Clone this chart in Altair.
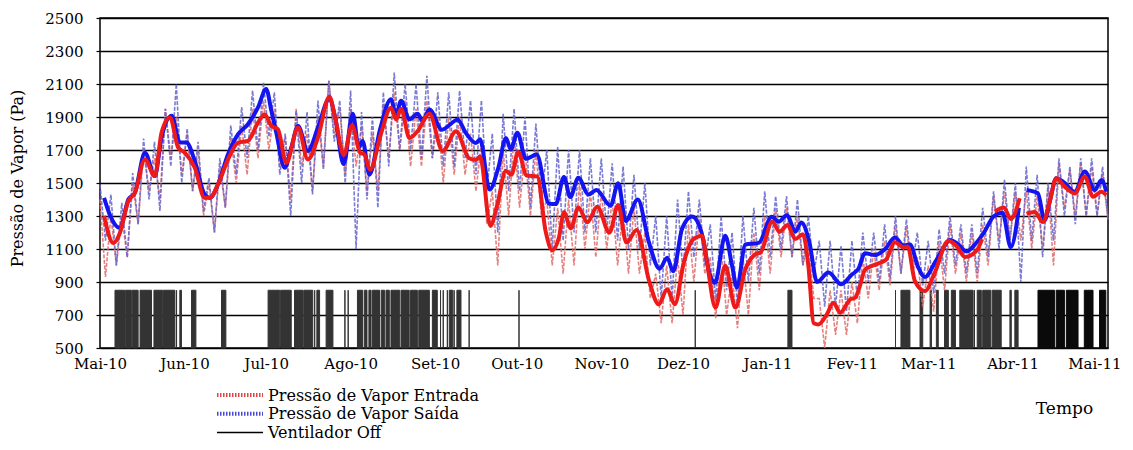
import altair as alt
import pandas as pd

# ---------------- data ----------------
Y_TICKS = [500, 700, 900, 1100, 1300, 1500, 1700, 1900, 2100, 2300, 2500]
MONTH_DAYS = [0, 31, 61, 92, 123, 153, 184, 214, 245, 276, 304, 335, 365]   # days since 2010-05-01
MONTH_LABELS = ["Mai-10", "Jun-10", "Jul-10", "Ago-10", "Set-10", "Out-10", "Nov-10",
                "Dez-10", "Jan-11", "Fev-11", "Mar-11", "Abr-11", "Mai-11"]

# smoothed "Saída" (blue thick line); None marks a gap in the record
saida_days = [1.5, 3.6, 7.3, 10.4, 12.8, 16.5, 20.1, 22.6, 26.3, 29.3, 31.7, 34.8, 38.4, 40.3, 43.3,
              47.0, 50.7, 54.3, 58.0, 61.0, 62.9, 64.7, 67.8, 70.2, 72.7, 76.3, 80.0, 84.2, 86.3,
              89.4, 92.8, 95.0, 96.4, 98.9, 102.8, 106.8, 108.7, 110.5, 113.6, 116.6, 118.4, 120.9,
              125.5, 131.3, 134.3, 138.0, 139.5, 143.0, 146.2, 149.0, 150.8, 153.2, 156.3, 160.3,
              164.8, 167.3, 170.3, 172.6, 175.6, 179.3, 182.2, 187.4, 190.2, 193.0, 197.4, 201.5,
              205.4, 208.2, 210.4, 213.7, 217.3, 220.8, 224.0, 225.7, 229.5, 232.0, 233.8, 236.9,
              241.8, 246.6, 249.1, 252.1, 255.3, 257.4, 260.4, 263.2, 267.4, 272.1, 276.0, 278.4,
              280.8, 284.5, 288.2, 291.8, 294.9, 297.3, 300.3, 302.8, 306.5, 308.5, 312.0, 315.0,
              318.0, 321.7, 324.5, 328.0, 331.3, 334.3, 337.3, 338.7, 340.1, 344.3, 346.7, 348.6,
              351.0, 353.5, 357.8, 361.5, 365.1, 367.6, 369.4]
saida_vals = [1410, 1308, 1227, 1400, 1440, 1684, 1542, 1775, 1907, 1745, 1745, 1633, 1430, 1410, 1491,
              1674, 1796, 1856, 1958, 2070, 1938, 1806, 1592, 1714, 1846, 1694, 1836, 2012, 1900,
              1615, 1920, 1714, 1755, 1550, 1825, 2008, 1910, 1998, 1886, 1920, 1875, 1946,
              1823, 1884, 1803, 1742, 1765, 1460, 1592, 1772, 1703, 1805, 1647, 1672,
              1375, 1372, 1537, 1415, 1532, 1430, 1458, 1362, 1498, 1270, 1400, 1140,
              980, 1047, 965, 1225, 1297, 1200, 938, 895, 1180, 1000, 866, 1127,
              1137, 1295, 1265, 1305, 1206, 1261, 1140, 900, 957, 886, 946, 980,
              1075, 1063, 1100, 1170, 1121, 1128, 990, 930, 1019, 1075, 1155, 1128,
              1085, 1138, 1200, 1297, 1320, 1110, 1350, None, 1457, 1437, 1274, 1386,
              1529, 1508, 1447, 1570, 1457, 1518, 1447]

# smoothed "Entrada" (red thick line)
entrada_days = [1.5, 4.9, 7.3, 10.4, 12.8, 16.5, 20.1, 22.6, 25.7, 28.7, 31.1, 34.8, 38.4, 40.3, 43.3,
                47.0, 50.7, 54.3, 58.0, 60.4, 62.9, 65.3, 68.4, 72.7, 76.3, 80.0, 84.2, 86.5, 89.5,
                92.5, 95.5, 97.0, 99.2, 103.0, 106.8, 108.7, 110.5, 113.6, 116.6, 120.9, 125.8, 130.7,
                135.5, 138.0, 139.5, 143.3, 145.8, 149.0, 151.0, 153.5, 156.6, 160.5, 163.6, 166.0,
                168.5, 170.3, 172.8, 175.6, 178.9, 182.5, 187.0, 190.2, 193.2, 197.0, 201.5, 205.1,
                208.2, 211.0, 214.3, 217.9, 221.0, 222.8, 225.9, 229.5, 233.2, 236.9, 240.5, 242.5,
                246.8, 249.4, 252.4, 255.2, 258.0, 260.0, 262.0, 263.7, 266.8, 269.2, 271.7, 275.4,
                277.2, 278.8, 280.8, 285.0, 288.5, 291.8, 294.9, 296.5, 299.1, 302.8, 306.5, 311.4,
                314.4, 317.5, 321.7, 323.8, 326.0, 328.5, 331.8, 334.3, 337.6, 338.8, 340.1, 343.1,
                346.1, 348.6, 351.0, 354.1, 357.8, 361.5, 364.5, 367.6, 369.4]
entrada_vals = [1300, 1136, 1197, 1390, 1440, 1643, 1542, 1806, 1897, 1714, 1684, 1592, 1410, 1410, 1491,
                1643, 1745, 1755, 1866, 1917, 1846, 1826, 1623, 1836, 1643, 1775, 2022, 1880, 1670,
                1850, 1683, 1674, 1580, 1790, 1956, 1885, 1950, 1773, 1815, 1920, 1694, 1813,
                1650, 1640, 1660, 1240, 1366, 1575, 1550, 1688, 1545, 1540, 1205, 1093,
                1173, 1322, 1225, 1352, 1262, 1356, 1200, 1366, 1139, 1215, 910, 765,
                856, 765, 1019, 1161, 1181, 1019, 745, 999, 745, 978, 1068, 1080,
                1267, 1205, 1245, 1160, 1190, 1000, 650, 643, 704, 775, 714, 795,
                805, 870, 975, 1008, 1035, 1141, 1110, 1115, 906, 845, 960, 1150,
                1118, 1052, 1088, 1160, None, 1328, 1352, 1282, 1408, None, 1314, 1325,
                1263, 1386, 1529, 1478, 1437, 1539, 1416, 1447, 1427]

# daily swings (thin hatched series): spike tops / bottoms read every 4 days
hatch_days = list(range(0, 369, 4))
saida_hi = [1490, 1430, 1380, 1560, 1770, 1750, 1950, 2100, 1830, 1750,
            1530, 1650, 1850, 1960, 2060, 2110, 2050, 1800, 1940, 1930,
            2000, 2120, 2000, 2060, 1930, 1900, 2050, 2170, 2100, 2100,
            2150, 2050, 2050, 2060, 2000, 2000, 1800, 1920, 1950, 1900,
            1860, 1700, 1720, 1700, 1700, 1650, 1650, 1620, 1600, 1550,
            1500, 1300, 1300, 1400, 1450, 1400, 1250, 1300, 1200, 1300,
            1350, 1450, 1420, 1420, 1400, 1300, 1150, 1150, 1120, 1150,
            1200, 1200, 1250, 1300, 1280, 1200, 1150, 1220, 1300, 1250,
            1250, 1350, 1450, 1520, 1500, 1600, 1550, 1500, 1650, 1600,
            1650, 1650, 1600]
saida_lo = [1150, 1000, 1050, 1250, 1400, 1330, 1600, 1500, 1450, 1330,
            1200, 1350, 1550, 1650, 1700, 1780, 1550, 1300, 1500, 1430,
            1580, 1750, 1500, 1100, 1400, 1350, 1600, 1700, 1700, 1650,
            1650, 1600, 1600, 1650, 1550, 1450, 1200, 1450, 1450, 1350,
            1400, 1100, 1150, 1200, 1200, 1200, 1200, 1150, 1100, 1100,
            1000, 800, 800, 950, 1050, 1000, 780, 850, 750, 900,
            950, 1050, 1100, 1050, 1000, 950, 750, 750, 720, 800,
            900, 900, 920, 950, 980, 880, 830, 950, 1000, 950,
            950, 1050, 1100, 1150, 900, 1150, 1050, 1150, 1300, 1250,
            1300, 1300, 1280]
entrada_hi = [1400, 1300, 1300, 1500, 1700, 1650, 1950, 1900, 1800, 1700,
              1500, 1600, 1780, 1850, 1950, 2000, 1950, 1780, 1950, 1800,
              1900, 2120, 1950, 1950, 1850, 1800, 1980, 2050, 2000, 1950,
              2000, 1900, 1900, 1900, 1800, 1750, 1450, 1700, 1800, 1700,
              1700, 1400, 1350, 1400, 1500, 1450, 1450, 1400, 1350, 1350,
              1200, 950, 1000, 1050, 1250, 1300, 1050, 1100, 950, 1050,
              1200, 1300, 1350, 1350, 1300, 1150, 800, 850, 850, 900,
              1050, 1100, 1150, 1250, 1230, 1050, 1000, 1150, 1250, 1200,
              1200, 1250, 1420, 1450, 1450, 1450, 1420, 1480, 1620, 1580,
              1620, 1600, 1560]
entrada_lo = [930, 1000, 1050, 1250, 1450, 1400, 1650, 1550, 1450, 1300,
              1200, 1350, 1500, 1550, 1650, 1700, 1600, 1400, 1600, 1450,
              1600, 1800, 1550, 1600, 1450, 1450, 1650, 1700, 1600, 1600,
              1650, 1500, 1550, 1550, 1450, 1250, 1000, 1300, 1350, 1300,
              1300, 1000, 950, 1000, 1100, 1050, 1100, 1000, 950, 950,
              800, 650, 650, 700, 900, 950, 680, 700, 620, 700,
              850, 950, 1050, 1050, 1000, 800, 500, 580, 580, 650,
              800, 850, 880, 950, 950, 750, 720, 850, 950, 900,
              900, 1000, 1150, 1150, 1150, 1100, 1100, 1000, 1350, 1300,
              1300, 1300, 1280]

# periods with the fan off (start day, end day)
fan_start = [5.5, 9.3, 11.8, 14.7, 19.8, 23.3, 28.1, 29.3, 33.6, 44.6, 61.7, 66.3, 71.4, 74.8, 78.8,
             79.6, 83.0, 89.9, 91.1, 94.5, 97.0, 98.7, 100.0, 103.2, 105.0, 106.8, 110.5, 114.0,
             117.0, 122.0, 125.0, 126.0, 127.5, 128.2, 130.0, 131.0, 135.5, 153.8, 218.5, 252.5,
             292.0, 294.0, 301.0, 304.7, 307.0, 310.0, 312.5, 315.6, 321.0, 322.0, 324.0, 327.5,
             334.0, 335.8, 344.3, 351.0, 354.7, 361.3, 362.6, 366.9]
fan_end = [9.0, 11.5, 14.0, 18.9, 23.0, 27.5, 28.1, 29.9, 35.2, 46.2, 66.0, 70.2, 74.5, 78.1, 78.8,
           80.6, 85.5, 89.9, 91.1, 96.4, 98.0, 99.5, 102.6, 104.5, 106.2, 110.0, 113.5, 116.5,
           120.9, 123.8, 125.0, 126.0, 127.5, 129.5, 130.0, 132.5, 135.5, 153.8, 218.5, 254.0,
           292.0, 297.3, 302.0, 305.2, 307.7, 311.4, 314.0, 320.5, 321.0, 323.5, 327.0, 330.8,
           334.5, 337.0, 350.4, 354.0, 359.0, 362.5, 364.5, 369.2]
FAN_OFF_LEVEL = 850
FAN_BASE = 500

# ---------------- frames ----------------
def line_frame(days, vals):
    rows, seg = [], 0
    for d, v in zip(days, vals):
        if v is None:
            seg += 1
            continue
        rows.append({"day": d, "val": v, "seg": seg})
    return pd.DataFrame(rows)


def hatch_frame(hi, lo):
    rows = []
    for i, d in enumerate(hatch_days):
        rows.append({"day": d, "val": hi[i], "o": 2 * i})
        rows.append({"day": d + 2, "val": lo[i], "o": 2 * i + 1})
    return pd.DataFrame(rows)


saida_df = line_frame(saida_days, saida_vals)
entrada_df = line_frame(entrada_days, entrada_vals)
saida_h = hatch_frame(saida_hi, saida_lo)
entrada_h = hatch_frame(entrada_hi, entrada_lo)
fan_df = pd.DataFrame({"s": fan_start, "e": fan_end,
                       "lo": [FAN_BASE] * len(fan_start), "hi": [FAN_OFF_LEVEL] * len(fan_start),
                       "late": [s > 340 for s in fan_start]})

# ---------------- scales / axes ----------------
FONT = "DejaVu Serif"
xscale = alt.Scale(domain=[0, 370], nice=False, zero=False)
yscale = alt.Scale(domain=[500, 2500], nice=False, zero=False)

label_expr = ("[" + ",".join("'%s'" % m for m in MONTH_LABELS) + "][indexof(["
              + ",".join(str(d) for d in MONTH_DAYS) + "], datum.value)]")

xaxis = alt.Axis(values=MONTH_DAYS, labelExpr=label_expr, grid=False, ticks=False, domain=False,
                 labelFont=FONT, labelFontSize=15, labelColor="black", labelPadding=8,
                 labelFlush=False, labelOverlap=False,
                 title="Tempo", titleFont=FONT, titleFontSize=17, titleFontWeight="normal",
                 titleColor="black", titleX=964, titleY=65, titleAlign="center",
                 titleBaseline="alphabetic")
yaxis = alt.Axis(values=Y_TICKS, format="d", grid=True, gridColor="black", gridWidth=1.4,
                 gridOpacity=1, domain=False, ticks=True, tickColor="black", tickSize=4,
                 tickWidth=1.2, labelFont=FONT, labelFontSize=15, labelColor="black",
                 labelPadding=13, labelFlush=False, labelOverlap=False,
                 title="Pressão de Vapor (Pa)", titleFont=FONT, titleFontSize=16,
                 titleFontWeight="normal", titleColor="black", titleAngle=270,
                 titleX=-78, titleY=160, titleAlign="center", titleBaseline="alphabetic")

X = lambda f: alt.X(f, type="quantitative", scale=xscale, axis=xaxis)
Y = lambda f: alt.Y(f, type="quantitative", scale=yscale, axis=yaxis)

fan_colors = alt.Scale(domain=[False, True], range=["#333333", "#0a0a0a"])
fan = alt.Chart(fan_df).mark_rect(strokeWidth=1).encode(
    x=X("s"), x2="e", y=Y("lo"), y2="hi",
    color=alt.Color("late:N", scale=fan_colors, legend=None),
    stroke=alt.Stroke("late:N", scale=fan_colors, legend=None))

hatch_red = alt.Chart(entrada_h).mark_line(color="#e06a6a", strokeWidth=1.6,
                                            strokeDash=[4, 1.5], opacity=0.85).encode(
    x=X("day"), y=Y("val"), order="o:Q")
hatch_blue = alt.Chart(saida_h).mark_line(color="#6464cc", strokeWidth=1.6,
                                           strokeDash=[4, 1.5], opacity=0.85).encode(
    x=X("day"), y=Y("val"), order="o:Q")

thick_blue = alt.Chart(saida_df).mark_line(color="#1414f0", strokeWidth=4, strokeJoin="round",
                                           interpolate="monotone").encode(
    x=X("day"), y=Y("val"), detail="seg:N", order="day:Q")
thick_red = alt.Chart(entrada_df).mark_line(color="#ee1a1a", strokeWidth=4, strokeJoin="round",
                                            interpolate="monotone").encode(
    x=X("day"), y=Y("val"), detail="seg:N", order="day:Q")

# ---------------- manual legend (below the plot, left side) ----------------
one = pd.DataFrame({"k": [0]})
legend_items = [
    ("Pressão de Vapor Entrada", "#e04545", [1.5, 1.5], 4, 377.0, 382.5),
    ("Pressão de Vapor Saída", "#4848d0", [1.5, 1.5], 4, 395.7, 401.2),
    ("Ventilador Off", "black", None, 1.5, 414.4, 419.9),
]
legend_layers = []
for label, col, dash, sw, ysym, ytxt in legend_items:
    rule_kw = dict(color=col, strokeWidth=sw)
    if dash:
        rule_kw["strokeDash"] = dash
    legend_layers.append(alt.Chart(one).mark_rule(**rule_kw).encode(
        x=alt.value(117), x2=alt.value(163), y=alt.value(ysym)))
    legend_layers.append(alt.Chart(one).mark_text(
        font=FONT, fontSize=16, color="black", align="left", baseline="alphabetic").encode(
        x=alt.value(168), y=alt.value(ytxt), text=alt.value(label)))

chart = alt.layer(fan, hatch_red, hatch_blue, thick_blue, thick_red, *legend_layers).properties(
    width=1008, height=330,
    autosize=alt.AutoSizeParams(type="none"),
    padding={"left": 92, "top": 10, "right": 17, "bottom": 94},
    background="white",
).configure_view(stroke="black", strokeWidth=1.5)

chart.save("out.html", embed_options={"renderer": "svg", "actions": False})
